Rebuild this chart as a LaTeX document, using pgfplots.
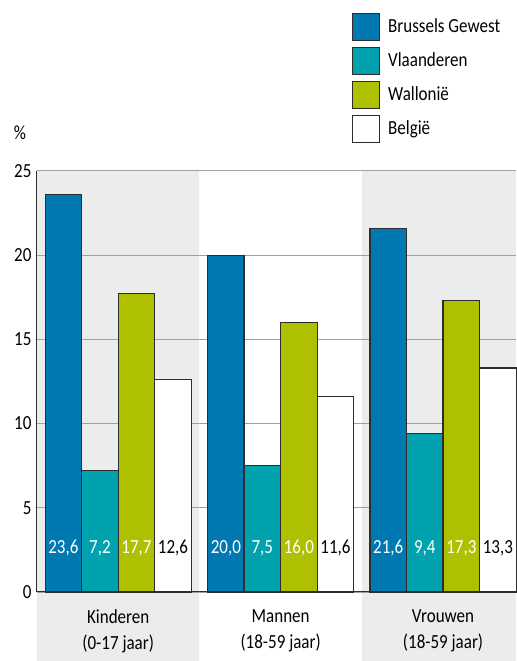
\documentclass[border=0pt]{standalone}
\usepackage{fontspec}
\setmainfont{Carlito}[FakeStretch=0.85]
\usepackage{pgfplots}
\pgfplotsset{compat=1.18}

\definecolor{brus}{RGB}{0,120,178}
\definecolor{vla}{RGB}{0,163,173}
\definecolor{wal}{RGB}{174,192,0}
\definecolor{bgshade}{RGB}{235,236,236}
\definecolor{gridc}{RGB}{160,160,160}
\definecolor{edge}{RGB}{45,45,45}

\begin{document}
\begin{tikzpicture}[font=\fontsize{20}{26}\selectfont]
\begin{axis}[
    set layers,
    clip=false,
    x=162.4pt, y=16.84pt,
    xmin=-0.5, xmax=2.45,
    ymin=0, ymax=25,
    axis lines*=left,
    axis line style={edge, line width=1pt},
    major tick length=0pt,
    ytick={0,5,10,15,20,25},
    ymajorgrids=true,
    grid style={gridc, line width=0.9pt},
    xtick={0,1,2},
    xticklabels={Kinderen\\(0-17 jaar), Mannen\\(18-59 jaar), Vrouwen\\(18-59 jaar)},
    xticklabel style={align=center, yshift=-14pt, font=\fontsize{20}{26}\selectfont},
    yticklabel style={xshift=-2pt, font=\fontsize{20}{26}\selectfont},
    /pgf/number format/assume math mode=true,
    ylabel={\%},
    ylabel style={rotate=-90, at={(axis description cs:-0.0355,1.09)}, anchor=center},
    ybar=0pt,
    bar width=0.225,
    every axis plot/.append style={draw=edge, line width=1.2pt},
    visualization depends on=rawy \as \rawy,
    nodes near coords,
    point meta=y,
    nodes near coords style={
        /pgf/number format/.cd, fixed, fixed zerofill, precision=1, use comma,
        /tikz/.cd, anchor=center, yshift={-(\rawy-2.6)*16.84pt},
        font=\fontsize{20}{26}\selectfont},
    legend style={at={(axis cs:1.421,34.5)}, anchor=north west, draw=none, fill=none,
        row sep=6pt, column sep=6pt, font=\fontsize{20}{26}\selectfont},
    legend cell align=left,
    legend image code/.code={\draw[#1, draw=edge, line width=1pt] (0pt,-14.5pt) rectangle (27pt,12.5pt);},
]
\begin{pgfonlayer}{axis background}
\fill[bgshade] (axis cs:-0.5,-4.1) rectangle (axis cs:0.5,25);
\fill[bgshade] (axis cs:1.5,-4.1) rectangle (axis cs:2.45,25);
\end{pgfonlayer}

\addplot[fill=brus, nodes near coords style={text=white}] coordinates {(0,23.6) (1,20.0) (2,21.6)};
\addplot[fill=vla, nodes near coords style={text=white}] coordinates {(0,7.2) (1,7.5) (2,9.4)};
\addplot[fill=wal, nodes near coords style={text=white}] coordinates {(0,17.7) (1,16.0) (2,17.3)};
\addplot[fill=white, nodes near coords style={text=black}] coordinates {(0,12.6) (1,11.6) (2,13.3)};
\legend{Brussels Gewest, Vlaanderen, Wallonië, België}

\coordinate (bl) at (axis cs:-0.7278,-4.097);
\coordinate (tr) at (axis cs:2.45,35.15);
\end{axis}
\pgfresetboundingbox
\useasboundingbox (bl) rectangle (tr);
\end{tikzpicture}
\end{document}
